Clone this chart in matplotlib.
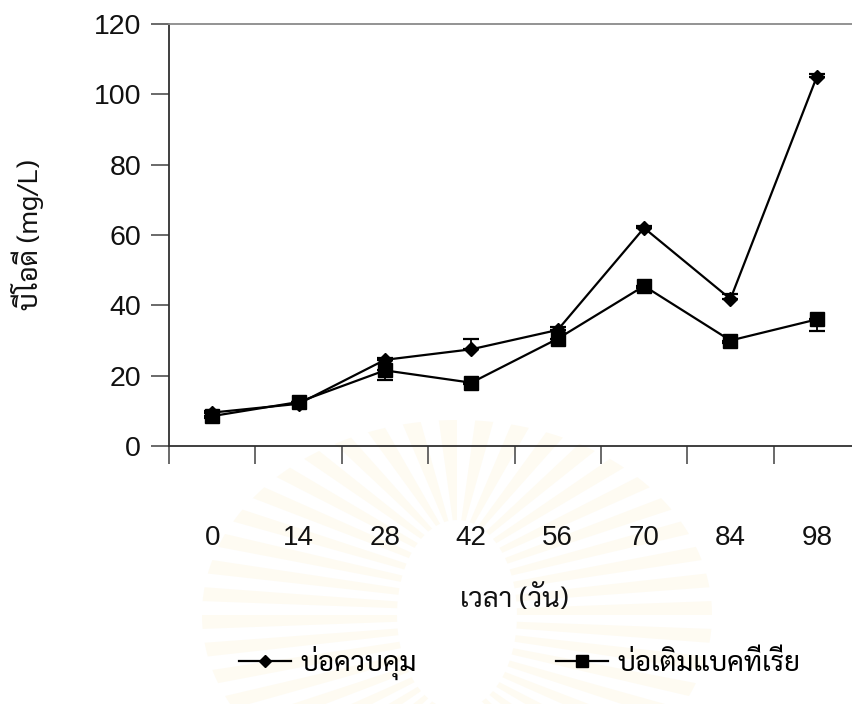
import numpy as np
import matplotlib
matplotlib.use("Agg")
import matplotlib.pyplot as plt
from matplotlib.lines import Line2D
from matplotlib.patches import Polygon

# BOD over time for the two ponds
days = ["0", "14", "28", "42", "56", "70", "84", "98"]
control_bod = [9.5, 12.0, 24.5, 27.5, 33.0, 62.0, 41.8, 105.0]
control_err = [0.5, 0.5, 0.5, 2.8, 0.8, 0.5, 1.5, 0.8]
bacteria_bod = [8.5, 12.5, 21.5, 18.0, 30.5, 45.5, 30.0, 36.0]
bacteria_err = [0.5, 0.5, 2.7, 0.5, 0.8, 0.5, 0.8, 3.4]

series_names = ["บ่อควบคุม", "บ่อเติมแบคทีเรีย"]
xlabel = "เวลา (วัน)"
ylabel = "บีโอดี (mg/L)"

THAI = ["Sarabun", "Noto Sans Thai Looped", "DejaVu Sans"]
NUM = ["Liberation Sans", "DejaVu Sans"]

W, H = 852, 704
fig = plt.figure(figsize=(W / 100, H / 100), dpi=100)
fig.patch.set_facecolor("white")

# faint sunburst watermark behind the chart, in pixel coordinates
bg = fig.add_axes([0, 0, 1, 1], zorder=-10)
bg.set_xlim(0, W)
bg.set_ylim(H, 0)
bg.axis("off")
cx, cy = 457, 615
rin_x, rin_y = 60, 95
rout_x, rout_y = 255, 195
n_rays = 44
for i in range(n_rays):
    t = np.linspace(i, i + 0.5, 6) * 2 * np.pi / n_rays
    outer = np.column_stack([cx + rout_x * np.cos(t), cy - rout_y * np.sin(t)])
    inner = np.column_stack([cx + rin_x * np.cos(t[::-1]), cy - rin_y * np.sin(t[::-1])])
    bg.add_patch(Polygon(np.vstack([outer, inner]), closed=True,
                         facecolor="#fefbf2", edgecolor="none"))

left, right, top, bottom = 169, 860, 24, 446
ax = fig.add_axes([left / W, 1 - bottom / H, (right - left) / W, (bottom - top) / H])
ax.set_facecolor("none")

x = np.arange(len(days))
ax.errorbar(x, control_bod, yerr=[np.zeros(len(x)), control_err],
            color="black", lw=1.6, marker="D", ms=7.5, mfc="black", mec="black",
            ecolor="black", elinewidth=1.3, capsize=6, capthick=1.6, zorder=3)
ax.errorbar(x, bacteria_bod, yerr=[bacteria_err, np.zeros(len(x))],
            color="black", lw=1.6, marker="s", ms=9.5, mfc="black", mec="black",
            ecolor="black", elinewidth=1.3, capsize=6, capthick=1.6, zorder=3)

ax.set_xlim(-0.5, len(days) - 0.5)
ax.set_ylim(0, 120)
ax.set_yticks(np.arange(0, 121, 20))
ax.set_xticks(np.arange(len(days) + 1) - 0.5)
ax.set_xticklabels([])
ax.set_xticks(x, minor=True)
ax.set_xticklabels(days, minor=True)

ax.spines["right"].set_visible(False)
ax.spines["top"].set_color("#8a8a8a")
ax.spines["top"].set_linewidth(1.3)
for s in ["left", "bottom"]:
    ax.spines[s].set_color("#303030")
    ax.spines[s].set_linewidth(1.3)

ax.tick_params(axis="both", which="major", direction="out", length=13,
               width=1.2, color="#505050")
ax.tick_params(axis="y", which="major", pad=7, labelsize=20.5, labelcolor="#111111")
ax.tick_params(axis="x", which="minor", length=0, pad=57, labelsize=20,
               labelcolor="#111111")
for lab in ax.get_yticklabels() + ax.get_xticklabels(minor=True):
    lab.set_family(NUM)

ax.set_xlabel(xlabel, family=THAI, fontsize=20, color="#111111")
ax.xaxis.set_label_coords(0.5, -(600 - bottom) / (bottom - top))
ax.xaxis.label.set_va("center")
ax.set_ylabel(ylabel, family=THAI, fontsize=20, color="#111111")
ax.yaxis.set_label_coords(-(left - 28) / (right - left), 0.5)
ax.yaxis.label.set_va("center")

handles = [
    Line2D([], [], color="black", lw=1.6, marker="D", ms=6.5),
    Line2D([], [], color="black", lw=1.6, marker="s", ms=8),
]
fig.legend(handles, series_names, loc="center", bbox_to_anchor=(520 / W, 1 - 663 / H),
           ncol=2, frameon=False, prop={"family": THAI, "size": 20},
           handlelength=1.85, handletextpad=0.37, columnspacing=5.0)

fig.savefig("out.png", dpi=100)
